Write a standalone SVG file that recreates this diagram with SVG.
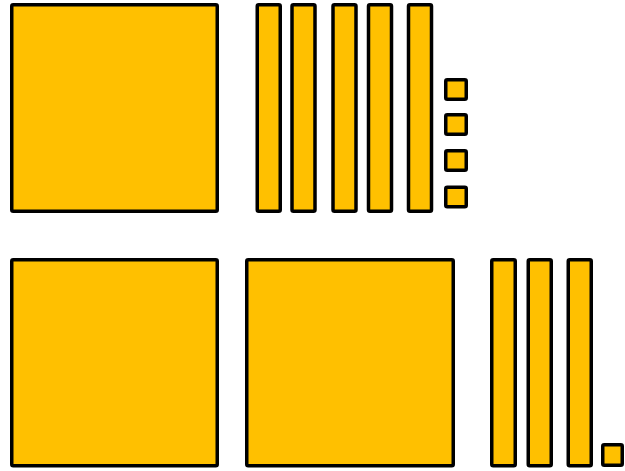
<svg xmlns="http://www.w3.org/2000/svg" width="625" height="471" viewBox="0 0 625 471">
<style>
.b{fill:#FFC000;stroke:#000;stroke-width:3.5;stroke-linejoin:round}
</style>
<rect width="625" height="471" fill="#fff"/>
<g id="top-row">
<rect id="hundred1" class="b" x="11.75" y="4.75" width="205.5" height="206.5" rx="1.5"/>
<rect id="ten1" class="b" x="257.25" y="4.75" width="23" height="206.5" rx="1.5"/>
<rect id="ten2" class="b" x="292" y="4.75" width="23" height="206.5" rx="1.5"/>
<rect id="ten3" class="b" x="333" y="4.75" width="23" height="206.5" rx="1.5"/>
<rect id="ten4" class="b" x="368.5" y="4.75" width="23" height="206.5" rx="1.5"/>
<rect id="ten5" class="b" x="408.5" y="4.75" width="23" height="206.5" rx="1.5"/>
<rect id="one1" class="b" x="445.75" y="79.75" width="20.5" height="19.5" rx="1.5"/>
<rect id="one2" class="b" x="445.75" y="114.75" width="20.5" height="19.5" rx="1.5"/>
<rect id="one3" class="b" x="445.75" y="150.75" width="20.5" height="19.5" rx="1.5"/>
<rect id="one4" class="b" x="445.75" y="187.25" width="20.5" height="19.5" rx="1.5"/>
</g>
<g id="bottom-row">
<rect id="hundred2" class="b" x="11.75" y="259.75" width="205.5" height="206" rx="1.5"/>
<rect id="hundred3" class="b" x="246.75" y="259.75" width="206.5" height="206" rx="1.5"/>
<rect id="ten6" class="b" x="491.75" y="259.75" width="23.5" height="206" rx="1.5"/>
<rect id="ten7" class="b" x="528.25" y="259.75" width="23" height="206" rx="1.5"/>
<rect id="ten8" class="b" x="568.25" y="259.75" width="23" height="206" rx="1.5"/>
<rect id="one5" class="b" x="602.75" y="444.75" width="19.5" height="20.5" rx="1.5"/>
</g>
<g id="connectors"/>
</svg>
